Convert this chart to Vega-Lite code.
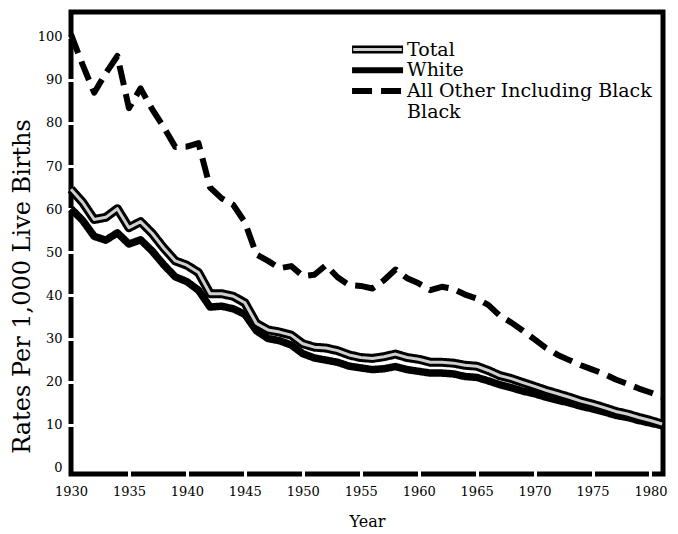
{
  "$schema": "https://vega.github.io/schema/vega-lite/v6.json",
  "width": 592,
  "height": 462,
  "autosize": "none",
  "padding": {"left": 71, "top": 12, "right": 15, "bottom": 60},
  "background": "white",
  "config": {
    "view": {"stroke": "black", "strokeWidth": 5},
    "font": "DejaVu Serif"
  },
  "layer": [
    {
      "data": {
        "values": [
          {"year": 1930, "Total": 64.6, "White": 60.1, "All Other Including Black": 100.5},
          {"year": 1931, "Total": 61.6, "White": 57.4, "All Other Including Black": 93.5},
          {"year": 1932, "Total": 57.6, "White": 53.7, "All Other Including Black": 87.0},
          {"year": 1933, "Total": 58.1, "White": 52.8, "All Other Including Black": 91.5},
          {"year": 1934, "Total": 60.1, "White": 54.5, "All Other Including Black": 95.5},
          {"year": 1935, "Total": 55.7, "White": 51.9, "All Other Including Black": 83.4},
          {"year": 1936, "Total": 57.1, "White": 52.9, "All Other Including Black": 88.0},
          {"year": 1937, "Total": 54.4, "White": 50.3, "All Other Including Black": 83.2},
          {"year": 1938, "Total": 51.0, "White": 47.1, "All Other Including Black": 79.0},
          {"year": 1939, "Total": 48.0, "White": 44.3, "All Other Including Black": 74.4},
          {"year": 1940, "Total": 47.0, "White": 43.2, "All Other Including Black": 74.5},
          {"year": 1941, "Total": 45.3, "White": 41.2, "All Other Including Black": 75.3},
          {"year": 1942, "Total": 40.4, "White": 37.3, "All Other Including Black": 65.0},
          {"year": 1943, "Total": 40.4, "White": 37.5, "All Other Including Black": 62.5},
          {"year": 1944, "Total": 39.8, "White": 36.9, "All Other Including Black": 61.0},
          {"year": 1945, "Total": 38.3, "White": 35.6, "All Other Including Black": 57.0},
          {"year": 1946, "Total": 33.5, "White": 31.8, "All Other Including Black": 49.5},
          {"year": 1947, "Total": 32.0, "White": 30.0, "All Other Including Black": 48.0},
          {"year": 1948, "Total": 31.5, "White": 29.5, "All Other Including Black": 46.3},
          {"year": 1949, "Total": 30.8, "White": 28.5, "All Other Including Black": 46.8},
          {"year": 1950, "Total": 28.8, "White": 26.5, "All Other Including Black": 44.5},
          {"year": 1951, "Total": 28.0, "White": 25.5, "All Other Including Black": 44.8},
          {"year": 1952, "Total": 27.8, "White": 25.0, "All Other Including Black": 47.0},
          {"year": 1953, "Total": 27.2, "White": 24.5, "All Other Including Black": 44.2},
          {"year": 1954, "Total": 26.2, "White": 23.6, "All Other Including Black": 42.4},
          {"year": 1955, "Total": 25.6, "White": 23.2, "All Other Including Black": 42.2},
          {"year": 1956, "Total": 25.4, "White": 22.8, "All Other Including Black": 41.6},
          {"year": 1957, "Total": 25.8, "White": 23.0, "All Other Including Black": 43.5},
          {"year": 1958, "Total": 26.4, "White": 23.5, "All Other Including Black": 46.0},
          {"year": 1959, "Total": 25.6, "White": 22.8, "All Other Including Black": 44.0},
          {"year": 1960, "Total": 25.2, "White": 22.4, "All Other Including Black": 42.8},
          {"year": 1961, "Total": 24.5, "White": 22.0, "All Other Including Black": 41.2},
          {"year": 1962, "Total": 24.5, "White": 22.0, "All Other Including Black": 42.0},
          {"year": 1963, "Total": 24.3, "White": 21.8, "All Other Including Black": 41.5},
          {"year": 1964, "Total": 23.8, "White": 21.2, "All Other Including Black": 40.2},
          {"year": 1965, "Total": 23.6, "White": 21.0, "All Other Including Black": 39.3},
          {"year": 1966, "Total": 22.6, "White": 20.2, "All Other Including Black": 37.8},
          {"year": 1967, "Total": 21.4, "White": 19.3, "All Other Including Black": 35.3},
          {"year": 1968, "Total": 20.7, "White": 18.6, "All Other Including Black": 33.7},
          {"year": 1969, "Total": 19.8, "White": 17.8, "All Other Including Black": 31.8},
          {"year": 1970, "Total": 18.9, "White": 17.2, "All Other Including Black": 29.8},
          {"year": 1971, "Total": 18.0, "White": 16.4, "All Other Including Black": 27.8},
          {"year": 1972, "Total": 17.2, "White": 15.7, "All Other Including Black": 26.2},
          {"year": 1973, "Total": 16.4, "White": 15.1, "All Other Including Black": 25.0},
          {"year": 1974, "Total": 15.5, "White": 14.3, "All Other Including Black": 23.8},
          {"year": 1975, "Total": 14.8, "White": 13.7, "All Other Including Black": 22.8},
          {"year": 1976, "Total": 14.0, "White": 13.0, "All Other Including Black": 21.8},
          {"year": 1977, "Total": 13.1, "White": 12.2, "All Other Including Black": 20.5},
          {"year": 1978, "Total": 12.5, "White": 11.7, "All Other Including Black": 19.5},
          {"year": 1979, "Total": 11.7, "White": 11.0, "All Other Including Black": 18.4},
          {"year": 1980, "Total": 11.0, "White": 10.4, "All Other Including Black": 17.5},
          {"year": 1981, "Total": 10.2, "White": 9.8, "All Other Including Black": 16.5}
        ]
      },
      "transform": [
        {"fold": ["Total", "White", "All Other Including Black"], "as": ["series", "rate"]}
      ],
      "layer": [
        {
          "mark": {"type": "line", "strokeJoin": "round", "strokeCap": "butt"},
          "encoding": {
            "x": {
              "field": "year",
              "type": "quantitative",
              "scale": {"domain": [1930, 1981.08], "nice": false, "zero": false},
              "axis": {
                "values": [1930, 1935, 1940, 1945, 1950, 1955, 1960, 1965, 1970, 1975, 1980],
                "format": "d",
                "title": "Year",
                "domain": false,
                "grid": false,
                "labelFlush": false,
                "tickColor": "white",
                "tickWidth": 3,
                "tickSize": 8,
                "tickOpacity": {"condition": {"test": "datum.value == 1930", "value": 0}, "value": 1},
                "offset": -4,
                "labelPadding": 7,
                "labelFont": "DejaVu Serif",
                "labelFontSize": 13,
                "labelColor": "black",
                "titleFont": "DejaVu Serif",
                "titleFontSize": 16,
                "titleFontWeight": "normal",
                "titleColor": "black",
                "titlePadding": 15,
                "zindex": 0
              }
            },
            "y": {
              "field": "rate",
              "type": "quantitative",
              "scale": {"domain": [-1.4, 105.7], "nice": false, "zero": false},
              "axis": {
                "values": [0, 10, 20, 30, 40, 50, 60, 70, 80, 90, 100],
                "title": "Rates Per 1,000 Live Births",
                "domain": false,
                "grid": false,
                "tickColor": "white",
                "tickWidth": 3,
                "tickSize": 8,
                "tickOpacity": {"condition": {"test": "datum.value == 0", "value": 0}, "value": 1},
                "offset": -4,
                "labelPadding": 5,
                "labelFont": "DejaVu Serif",
                "labelFontSize": 13,
                "labelColor": "black",
                "titleFont": "DejaVu Serif",
                "titleFontSize": 24,
                "titleFontWeight": "normal",
                "titleColor": "black",
                "titleAngle": -90,
                "titleAlign": "center",
                "titleBaseline": "middle",
                "titleX": -53,
                "titleY": 274,
                "zindex": 0
              }
            },
            "color": {
              "field": "series",
              "type": "nominal",
              "scale": {"domain": ["Total", "White", "All Other Including Black"], "range": ["black", "black", "black"]},
              "legend": null
            },
            "strokeDash": {
              "field": "series",
              "type": "nominal",
              "scale": {"domain": ["Total", "White", "All Other Including Black"], "range": [[1, 0], [1, 0], [20, 9]]},
              "legend": null
            },
            "strokeWidth": {
              "field": "series",
              "type": "nominal",
              "scale": {"domain": ["Total", "White", "All Other Including Black"], "range": [9, 6, 6]},
              "legend": null
            }
          }
        },
        {
          "transform": [{"filter": "datum.series === 'Total'"}],
          "mark": {"type": "line", "color": "#cfcfcf", "strokeWidth": 3, "strokeJoin": "round"},
          "encoding": {
            "x": {"field": "year", "type": "quantitative"},
            "y": {"field": "rate", "type": "quantitative"}
          }
        }
      ]
    },
    {
      "data": {"values": [{}]},
      "layer": [
        {
          "mark": {"type": "rule", "color": "black", "strokeWidth": 8, "strokeCap": "butt"},
          "encoding": {"x": {"datum": 1954.25}, "x2": {"datum": 1958.65}, "y": {"datum": 97.0}}
        },
        {
          "mark": {"type": "rule", "color": "#cfcfcf", "strokeWidth": 3, "strokeCap": "butt"},
          "encoding": {"x": {"datum": 1954.35}, "x2": {"datum": 1958.55}, "y": {"datum": 97.0}}
        },
        {
          "mark": {"type": "rule", "color": "black", "strokeWidth": 6, "strokeCap": "butt"},
          "encoding": {"x": {"datum": 1954.25}, "x2": {"datum": 1958.65}, "y": {"datum": 92.2}}
        },
        {
          "mark": {"type": "rule", "color": "black", "strokeWidth": 6, "strokeCap": "butt", "strokeDash": [20, 9]},
          "encoding": {"x": {"datum": 1954.25}, "x2": {"datum": 1958.65}, "y": {"datum": 87.4}}
        },
        {
          "mark": {"type": "text", "text": "Total", "align": "left", "baseline": "middle", "font": "DejaVu Serif", "fontSize": 19, "color": "black"},
          "encoding": {"x": {"datum": 1959.0}, "y": {"datum": 97.0}}
        },
        {
          "mark": {"type": "text", "text": "White", "align": "left", "baseline": "middle", "font": "DejaVu Serif", "fontSize": 19, "color": "black"},
          "encoding": {"x": {"datum": 1959.0}, "y": {"datum": 92.2}}
        },
        {
          "mark": {"type": "text", "text": "All Other Including Black", "align": "left", "baseline": "middle", "font": "DejaVu Serif", "fontSize": 19, "color": "black"},
          "encoding": {"x": {"datum": 1959.0}, "y": {"datum": 87.4}}
        },
        {
          "mark": {"type": "text", "text": "Black", "align": "left", "baseline": "middle", "font": "DejaVu Serif", "fontSize": 19, "color": "black"},
          "encoding": {"x": {"datum": 1959.0}, "y": {"datum": 82.6}}
        }
      ]
    }
  ]
}
